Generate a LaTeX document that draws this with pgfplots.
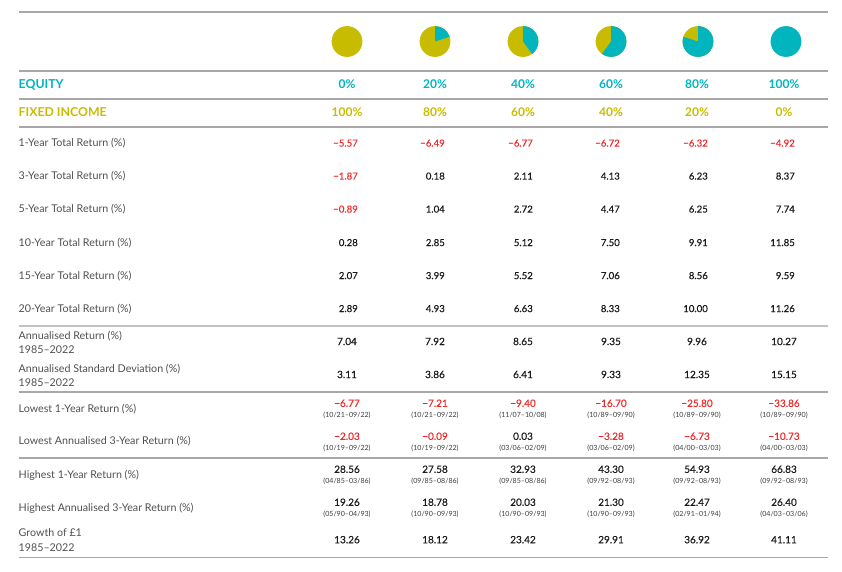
\documentclass[border=0pt]{standalone}
\usepackage{pgfplots}
\pgfplotsset{compat=1.18}
\usepackage{pgfplotstable}
\usepackage{fontspec}
\setmainfont{Lato}
\newfontfamily\numfont[FakeBold=0.35]{Lato}
\definecolor{teq}{HTML}{00B5BD}
\definecolor{fix}{HTML}{C8BC00}
\definecolor{negred}{HTML}{EE2A2A}
\definecolor{lab}{HTML}{505050}
\definecolor{val}{HTML}{1A1A1A}
\definecolor{rule}{HTML}{A8A8A8}
\protected\def\R#1{\textcolor{negred}{−#1}}

\pgfplotstableread{
xc  xr  eq     fi     pe  r1       r3       r5       r10   r15  r20   ar    sd    lo        lod            lt        ltd            hi    hid            ht    htd            g
347 358 0\%    100\%  0   \R{5.57} \R{1.87} \R{0.89} 0.28  2.07 2.89  7.04  3.11  \R{6.77}  (10/21–09/22)  \R{2.03}  (10/19–09/22)  28.56 (04/85–03/86)  19.26 (05/90–04/93)  13.26
435 445 20\%   80\%   20  \R{6.49} 0.18     1.04     2.85  3.99 4.93  7.92  3.86  \R{7.21}  (10/21–09/22)  \R{0.09}  (10/19–09/22)  27.58 (09/85–08/86)  18.78 (10/90–09/93)  18.12
523 533 40\%   60\%   40  \R{6.77} 2.11     2.72     5.12  5.52 6.63  8.65  6.41  \R{9.40}  (11/07–10/08)  0.03      (03/06–02/09)  32.93 (09/85–08/86)  20.03 (10/90–09/93)  23.42
611 620 60\%   40\%   60  \R{6.72} 4.13     4.47     7.50  7.06 8.33  9.35  9.33  \R{16.70} (10/89–09/90)  \R{3.28}  (03/06–02/09)  43.30 (09/92–08/93)  21.30 (10/90–09/93)  29.91
697 708 80\%   20\%   80  \R{6.32} 6.23     6.25     9.91  8.56 10.00 9.96  12.35 \R{25.80} (10/89–09/90)  \R{6.73}  (04/00–03/03)  54.93 (09/92–08/93)  22.47 (02/91–01/94)  36.92
784 795 100\%  0\%    100 \R{4.92} 8.37     7.74     11.85 9.59 11.26 10.27 15.15 \R{33.86} (10/89–09/90)  \R{10.73} (04/00–03/03)  66.83 (09/92–08/93)  26.40 (04/03–03/06)  41.11
}\data

\pgfplotsset{
  rvals/.style={draw=none, mark=none, nodes near coords, point meta=explicit symbolic,
    every node near coord/.append style={anchor=mid east, inner sep=0pt, text=val, font=\numfont\fontsize{9.6}{10}\selectfont}},
  cvals/.style={draw=none, mark=none, nodes near coords, point meta=explicit symbolic,
    every node near coord/.append style={anchor=mid, inner sep=0pt, text=val, font=\numfont\fontsize{10}{11}\selectfont}},
  dvals/.style={draw=none, mark=none, nodes near coords, point meta=explicit symbolic,
    every node near coord/.append style={anchor=mid, inner sep=0pt, text=val!85, font=\fontsize{7.1}{8}\selectfont}},
  hvals/.style={draw=none, mark=none, nodes near coords, point meta=explicit symbolic,
    every node near coord/.append style={anchor=mid, inner sep=0pt, text=#1, font=\bfseries\fontsize{12}{13}\selectfont}},
  rl/.style={rule, line width=1.3pt},
}

\begin{document}
\begin{tikzpicture}
\begin{axis}[
  scale only axis, width=842pt, height=572pt,
  xmin=0, xmax=842, ymin=0, ymax=572, y dir=reverse,
  hide axis, clip=false,
]
\addplot[draw=none, mark=none] coordinates {(0,0) (842,572)};

% rules
\addplot[rl] coordinates {(18.5,12) (828,12)};
\addplot[rl] coordinates {(18.5,71) (828,71)};
\addplot[rl] coordinates {(18.5,99) (828,99)};
\addplot[rl] coordinates {(18.5,127) (828,127)};
\addplot[rl, line width=1.8pt, color=rule!70] coordinates {(18.5,326) (828,326)};
\addplot[rl] coordinates {(18.5,392) (828,392)};
\addplot[rl] coordinates {(18.5,458) (828,458)};
\addplot[rl] coordinates {(18.5,557.5) (828,557.5)};

% pies
\fill[fix] (axis cs:347,41.5) circle[radius=15.4pt];
\fill[fix] (axis cs:435,41.5) circle[radius=15.4pt];
\fill[teq] (axis cs:435,41.5) -- ++(90:15.4pt) arc[start angle=90, end angle=18, radius=15.4pt] -- cycle;
\fill[fix] (axis cs:523,41.5) circle[radius=15.4pt];
\fill[teq] (axis cs:523,41.5) -- ++(90:15.4pt) arc[start angle=90, end angle=-54, radius=15.4pt] -- cycle;
\fill[fix] (axis cs:611,41.5) circle[radius=15.4pt];
\fill[teq] (axis cs:611,41.5) -- ++(90:15.4pt) arc[start angle=90, end angle=-126, radius=15.4pt] -- cycle;
\fill[fix] (axis cs:698,41.5) circle[radius=15.4pt];
\fill[teq] (axis cs:698,41.5) -- ++(90:15.4pt) arc[start angle=90, end angle=-198, radius=15.4pt] -- cycle;
\fill[teq] (axis cs:786,41.5) circle[radius=15.4pt];

% header rows
\node[anchor=mid west, inner sep=0pt, text=teq, font=\bfseries\fontsize{12.3}{13}\selectfont] at (axis cs:18.5,85.5) {EQUITY};
\node[anchor=mid west, inner sep=0pt, text=fix, font=\bfseries\fontsize{12.3}{13}\selectfont] at (axis cs:18.5,113.5) {FIXED INCOME};
\addplot[hvals=teq] table[x=xc, y expr=85.5, meta=eq] {\data};
\addplot[hvals=fix] table[x=xc, y expr=113.5, meta=fi] {\data};

% row labels
\begin{scope}[every node/.style={anchor=mid west, inner sep=0pt, text=lab, font=\fontsize{10.7}{11}\selectfont}]
\node at (axis cs:18.5,144) {1-Year Total Return (\%)};
\node at (axis cs:18.5,177) {3-Year Total Return (\%)};
\node at (axis cs:18.5,210) {5-Year Total Return (\%)};
\node at (axis cs:18.5,243.5) {10-Year Total Return (\%)};
\node at (axis cs:18.5,276.5) {15-Year Total Return (\%)};
\node at (axis cs:18.5,309.5) {20-Year Total Return (\%)};
\node at (axis cs:18.5,336.5) {Annualised Return (\%)};
\node at (axis cs:18.5,350.5) {1985–2022};
\node at (axis cs:18.5,369.5) {Annualised Standard Deviation (\%)};
\node at (axis cs:18.5,383.5) {1985–2022};
\node at (axis cs:18.5,409.5) {Lowest 1-Year Return (\%)};
\node at (axis cs:18.5,442) {Lowest Annualised 3-Year Return (\%)};
\node at (axis cs:18.5,475.5) {Highest 1-Year Return (\%)};
\node at (axis cs:18.5,508.5) {Highest Annualised 3-Year Return (\%)};
\node at (axis cs:18.5,534) {Growth of £1};
\node at (axis cs:18.5,548.5) {1985–2022};
\end{scope}

% values
\addplot[rvals] table[x=xr, y expr=144, meta=r1] {\data};
\addplot[rvals] table[x=xr, y expr=177, meta=r3] {\data};
\addplot[rvals] table[x=xr, y expr=210, meta=r5] {\data};
\addplot[rvals] table[x=xr, y expr=243.5, meta=r10] {\data};
\addplot[rvals] table[x=xr, y expr=276.5, meta=r15] {\data};
\addplot[rvals] table[x=xr, y expr=309.5, meta=r20] {\data};
\addplot[cvals] table[x=xc, y expr=342.5, meta=ar] {\data};
\addplot[cvals] table[x=xc, y expr=375.5, meta=sd] {\data};
\addplot[cvals] table[x=xc, y expr=404.3, meta=lo] {\data};
\addplot[dvals] table[x=xc, y expr=414.8, meta=lod] {\data};
\addplot[cvals] table[x=xc, y expr=437.3, meta=lt] {\data};
\addplot[dvals] table[x=xc, y expr=447.6, meta=ltd] {\data};
\addplot[cvals] table[x=xc, y expr=470.3, meta=hi] {\data};
\addplot[dvals] table[x=xc, y expr=480.8, meta=hid] {\data};
\addplot[cvals] table[x=xc, y expr=503.3, meta=ht] {\data};
\addplot[dvals] table[x=xc, y expr=513.6, meta=htd] {\data};
\addplot[cvals] table[x=xc, y expr=540.7, meta=g] {\data};
\end{axis}
\end{tikzpicture}
\end{document}
